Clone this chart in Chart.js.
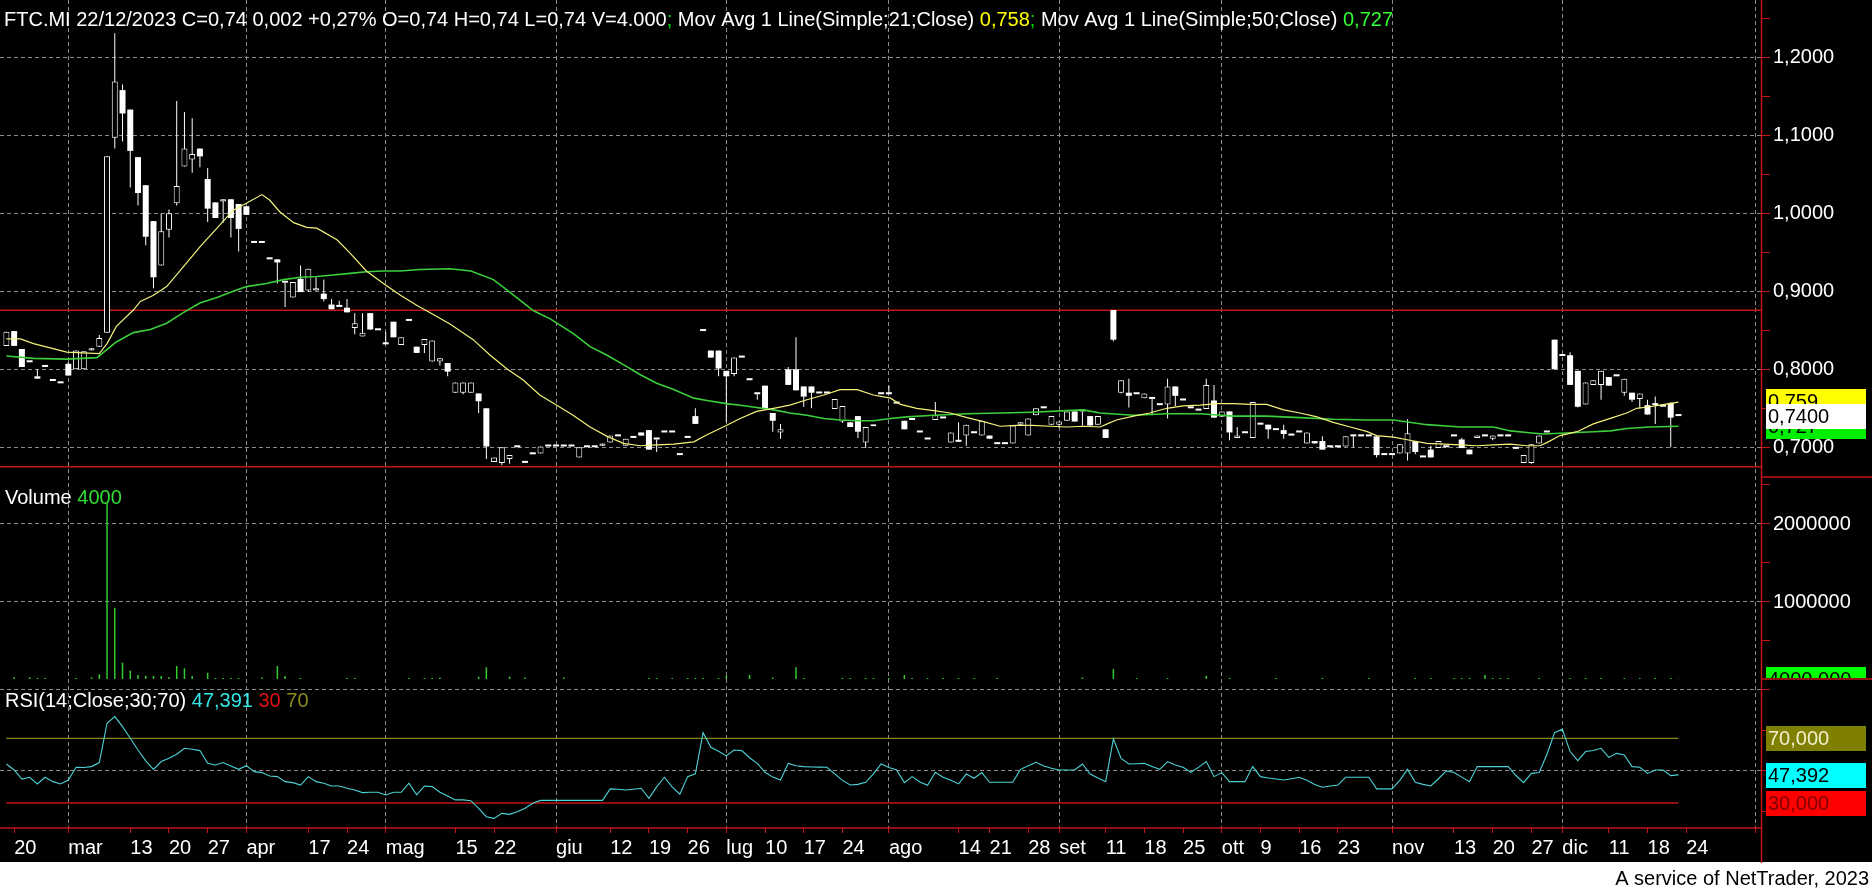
<!DOCTYPE html>
<html>
<head>
<meta charset="utf-8">
<script src="https://cdn.jsdelivr.net/npm/chart.js@4.4.1/dist/chart.umd.min.js"></script>
<style>
  html, body { margin: 0; padding: 0; background: #fff; }
  canvas { display: block; }
</style>
</head>
<body>
<canvas id="chart" width="1872" height="888"></canvas>
<script>
// candles, one per trading day from 17/02/2023 to 22/12/2023
const opens = [
  .830,.849,.826,.809,.791,.803,.785,.782,.807,.800,
  .800,.824,.829,.847,1.097,1.158,1.133,1.072,1.036,.990,
  .933,.979,1.013,1.060,1.069,1.083,1.044,1.014,1.015,1.018,
  1.012,1.009,.962,.962,.941,.941,.911,.892,.916,.901,
  .901,.897,.883,.880,.879,.853,.842,.872,.850,.832,
  .861,.831,.862,.829,.831,.810,.810,.808,.770,.770,
  .770,.769,.750,.681,.680,.685,.700,.680,.691,.692,
  .701,.701,.701,.701,.687,.700,.700,.702,.706,.714,
  .702,.712,.719,.722,.710,.719,.719,.690,.712,.740,
  .849,.824,.824,.798,.794,.815,.786,.768,.779,.744,
  .719,.800,.800,.778,.778,.769,.769,.749,.733,.732,
  .740,.706,.727,.768,.768,.756,.734,.735,.719,.710,
  .735,.737,.706,.707,.715,.718,.715,.715,.704,.704,
  .705,.729,.715,.741,.750,.729,.729,.734,.746,.746,
  .740,.729,.723,.876,.770,.770,.768,.763,.762,.754,
  .755,.778,.760,.750,.747,.749,.760,.739,.746,.712,
  .718,.712,.729,.729,.722,.722,.715,.719,.705,.708,
  .708,.700,.700,.701,.714,.714,.714,.714,.690,.690,
  .692,.692,.708,.687,.697,.699,.700,.714,.710,.697,
  .712,.714,.711,.714,.714,.700,.680,.680,.705,.719,
  .838,.817,.818,.798,.755,.780,.780,.790,.791,.770,
  .770,.762,.754,.754,.752,.757,.740
];
const highs = [
  .848,.849,.826,.809,.800,.803,.785,.782,.810,.824,
  .823,.827,.844,1.073,1.231,1.165,1.133,1.072,1.036,.990,
  1.000,1.005,1.144,1.130,1.122,1.083,1.058,1.014,1.018,1.018,
  1.012,1.009,.962,.962,.941,.941,.911,.912,.933,.929,
  .918,.915,.890,.888,.890,.872,.872,.872,.850,.848,
  .861,.841,.862,.829,.839,.837,.814,.808,.783,.783,
  .783,.769,.750,.687,.700,.690,.700,.680,.691,.701,
  .701,.701,.701,.701,.700,.700,.700,.705,.715,.714,
  .711,.712,.719,.722,.710,.719,.719,.690,.712,.750,
  .849,.824,.824,.798,.815,.815,.786,.768,.779,.744,
  .730,.803,.841,.778,.778,.769,.769,.762,.753,.732,
  .740,.726,.729,.768,.779,.756,.734,.735,.719,.710,
  .758,.737,.719,.732,.729,.718,.734,.715,.704,.704,
  .728,.732,.737,.750,.750,.740,.733,.746,.746,.746,
  .740,.740,.723,.876,.786,.788,.768,.769,.762,.754,
  .788,.778,.760,.750,.747,.788,.780,.746,.746,.726,
  .718,.758,.729,.729,.722,.729,.715,.719,.719,.708,
  .714,.700,.700,.714,.714,.714,.714,.714,.690,.690,
  .704,.736,.708,.687,.702,.708,.700,.714,.712,.697,
  .715,.714,.715,.714,.714,.700,.690,.704,.715,.719,
  .838,.817,.822,.798,.783,.786,.798,.790,.791,.788,
  .770,.769,.761,.765,.752,.757,.740
];
const lows = [
  .830,.830,.803,.809,.788,.803,.785,.782,.792,.800,
  .800,.824,.829,.847,1.083,1.092,1.033,1.010,.959,.904,
  .933,.969,1.010,1.060,1.052,1.059,.989,.994,.988,.969,
  .951,.998,.962,.962,.941,.910,.880,.892,.899,.899,
  .901,.887,.877,.880,.873,.845,.842,.851,.850,.832,
  .841,.831,.862,.821,.821,.810,.805,.791,.770,.768,
  .770,.744,.685,.681,.677,.679,.700,.680,.691,.692,
  .701,.701,.701,.701,.687,.700,.700,.702,.706,.714,
  .702,.712,.715,.697,.694,.719,.719,.690,.712,.730,
  .849,.815,.791,.732,.791,.815,.786,.761,.750,.720,
  .711,.780,.773,.752,.750,.769,.769,.749,.731,.726,
  .712,.699,.727,.768,.768,.756,.723,.735,.719,.710,
  .735,.737,.706,.707,.702,.718,.715,.711,.704,.704,
  .705,.729,.715,.741,.750,.729,.725,.734,.733,.728,
  .728,.729,.712,.836,.769,.751,.768,.763,.741,.754,
  .737,.753,.760,.750,.747,.749,.738,.739,.709,.712,
  .718,.712,.729,.711,.722,.711,.715,.719,.705,.705,
  .697,.700,.700,.701,.700,.714,.714,.687,.690,.690,
  .692,.683,.691,.687,.687,.699,.700,.714,.699,.691,
  .712,.714,.709,.714,.714,.698,.680,.679,.705,.719,
  .800,.817,.780,.751,.755,.780,.761,.779,.791,.766,
  .758,.750,.742,.730,.752,.700,.740
];
const closes = [
  .848,.830,.803,.809,.788,.803,.785,.782,.792,.824,
  .823,.827,.840,1.073,1.169,1.128,1.080,1.026,.970,.918,
  .977,1.000,1.035,1.083,1.076,1.073,1.006,.994,1.018,.994,
  .980,.998,.962,.962,.941,.937,.911,.912,.899,.929,
  .904,.890,.877,.880,.873,.859,.847,.851,.850,.832,
  .841,.841,.862,.821,.839,.837,.814,.797,.783,.783,
  .783,.759,.701,.687,.700,.690,.700,.680,.691,.701,
  .701,.701,.701,.701,.700,.700,.700,.705,.715,.714,
  .711,.712,.715,.697,.710,.719,.719,.690,.712,.730,
  .849,.815,.801,.791,.815,.815,.786,.768,.750,.734,
  .723,.780,.773,.765,.770,.769,.769,.762,.753,.726,
  .720,.726,.729,.768,.768,.756,.723,.735,.719,.710,
  .741,.737,.719,.707,.729,.718,.734,.711,.704,.704,
  .728,.732,.737,.750,.750,.740,.733,.746,.733,.746,
  .728,.740,.712,.838,.786,.766,.768,.769,.762,.754,
  .778,.766,.760,.750,.747,.780,.738,.746,.719,.715,
  .718,.758,.729,.723,.722,.717,.715,.719,.719,.705,
  .697,.700,.700,.714,.714,.714,.714,.690,.690,.690,
  .704,.718,.694,.687,.687,.708,.700,.714,.699,.691,
  .715,.714,.715,.714,.714,.698,.690,.704,.715,.719,
  .800,.817,.780,.752,.783,.786,.798,.779,.791,.788,
  .761,.769,.742,.754,.752,.738,.740
];
const volumes = [
  0,22000,0,22000,13000,13000,0,0,0,13000,
  0,20000,60000,2260000,916000,209000,107000,51000,39000,39000,
  39000,22000,167000,137000,39000,0,81000,13000,13000,13000,
  13000,0,0,20000,0,167000,39000,0,13000,0,
  0,0,0,0,13000,13000,0,0,0,0,
  0,0,13000,0,13000,13000,20000,0,0,0,
  0,30000,150000,0,0,30000,0,20000,0,0,
  0,0,20000,0,0,0,0,0,0,0,
  0,0,0,13000,13000,0,13000,0,13000,13000,
  13000,0,13000,39000,0,0,51000,0,0,20000,
  0,0,150000,13000,0,0,0,0,13000,13000,
  0,13000,13000,0,13000,0,51000,13000,0,13000,
  0,13000,0,13000,0,13000,0,0,13000,0,
  0,0,0,0,0,0,0,0,0,20000,
  0,0,0,128000,0,0,13000,0,0,0,
  13000,0,0,0,0,39000,0,0,13000,0,
  0,0,0,0,13000,0,0,0,0,0,
  13000,0,0,0,0,0,13000,0,0,0,
  0,0,13000,0,13000,0,0,13000,13000,13000,
  0,51000,13000,13000,13000,0,0,0,13000,0,
  0,0,13000,0,13000,0,13000,0,0,13000,
  0,13000,0,13000,0,13000,4000
];
const rsi = [
  54.1,50.4,44.8,45.9,41.8,45.9,43.2,41.8,44.2,52.1,
  51.9,52.5,55.0,79.3,83.4,77.2,70.0,62.8,56.0,50.8,
  55.6,57.6,60.1,63.8,63.2,62.4,54.5,53.5,55.0,52.9,
  50.8,53.1,49.4,48.8,46.7,46.3,43.2,42.6,41.1,46.3,
  43.2,42.2,40.5,40.5,39.1,38.0,36.4,36.6,36.6,35.0,
  36.6,36.6,42.2,35.0,40.5,40.1,36.6,34.3,31.9,31.9,
  31.4,26.7,21.5,20.5,23.6,23.0,24.6,26.7,29.8,31.6,
  31.6,31.6,31.6,31.6,31.6,31.6,31.6,31.6,38.7,38.5,
  38.0,38.5,39.1,32.9,40.0,45.9,40.0,35.4,46.3,48.0,
  73.5,64.4,62.0,59.1,62.8,62.4,58.0,54.5,49.0,46.0,
  44.2,54.5,53.0,52.5,52.3,52.2,52.1,48.0,44.0,41.1,
  41.5,42.8,48.0,54.1,52.0,50.4,42.6,46.3,43.0,40.9,
  49.0,45.9,44.0,41.8,47.9,45.3,48.8,42.8,42.8,42.8,
  42.8,50.8,53.0,55.2,52.9,51.5,50.4,50.4,50.4,54.1,
  47.9,45.5,43.2,69.6,57.6,54.1,54.3,54.5,52.5,50.8,
  55.6,53.5,52.1,49.0,52.0,55.6,46.3,48.8,43.2,43.2,
  43.2,52.5,46.3,45.5,44.8,44.2,45.0,45.9,44.0,41.5,
  39.7,40.5,41.1,45.9,45.9,45.9,45.9,38.7,38.7,38.7,
  44.0,50.8,42.8,41.5,40.5,45.0,49.8,48.8,46.0,43.2,
  52.5,52.5,52.5,52.5,52.5,47.0,42.6,48.3,48.8,60.0,
  73.5,75.6,61.8,56.2,61.8,62.5,63.8,58.2,60.7,59.7,
  52.5,52.1,48.3,50.4,50.4,46.9,47.4
];
// moving averages (day index, value)
const ma21Day = [0,1.8,3.5,7.8,12,13,14.2,16.4,17.3,19,20.7,22.9,25,27.2,29.3,31,33,34,35.3,37.1,38.8,40.1,42.7,44.4,46.5,48.7,50.9,53,55.2,57.3,
  60.3,62.5,64.6,66.8,68.9,71.1,73.2,75.4,77.6,79.7,81.9,84,86.2,88.8,90.5,92.6,94.8,96.9,99.1,101.2,103.4,105.6,107.7,109.9,112,114.2,
  115.5,117.6,119.8,121.9,124.1,126.2,128.4,130.5,132.5,134.8,137,139.1,141.3,142.2,143.4,145.6,147.7,149.9,152,154.2,156.3,158.5,160.7,162.8,165,167.1,169.3,171.4,173.6,175.8,
  177,179.2,181.3,183.5,185.7,187.8,190,192.1,194.3,196.4,198.1,199,200.7,202.9,205,207.2,209.3,210.6,212.3,213.6,216];
const ma21Val = [.839,.839,.833,.822,.820,.833,.855,.876,.887,.895,.906,.932,.957,.981,1.004,1.013,1.024,1.017,1.002,.988,.982,.981,.966,.949,.926,.910,.895,.882,.870,.858,
  .838,.818,.801,.786,.767,.754,.741,.726,.714,.705,.702,.703,.704,.707,.716,.726,.737,.746,.750,.754,.761,.767,.774,.774,.767,.763,
  .755,.750,.747,.744,.738,.733,.727,.728,.728,.727,.726,.727,.726,.730,.735,.740,.744,.750,.753,.754,.756,.756,.755,.755,.748,.744,.739,.732,.726,.720,
  .715,.713,.709,.705,.704,.703,.702,.703,.704,.702,.702,.706,.715,.720,.730,.737,.744,.750,.752,.754,.758];
const ma50Day = [0,3.5,7.8,11.7,14.2,16.4,18.6,20.7,22.9,25,27.2,29.3,31,33.6,35.8,38,40.1,42.2,44.4,46.5,48.7,50.9,53.4,57.3,60,
  62.9,64.6,68.1,70.2,73.2,75.4,77.6,79.7,81.9,84,86.2,88.8,90.5,93,94.8,96.9,99.1,101.2,103.4,105.6,107.7,109.9,112,114.2,116.3,
  119.8,124.1,128.4,132.5,137,139.1,141.3,145.6,149.9,154.2,158.5,162.8,167.1,171.4,175.8,179.2,183.5,187.8,192.1,194.3,196.4,198.5,200.7,202.9,205,207.2,209.3,212.3,216];
const ma50Val = [.817,.814,.813,.815,.835,.847,.851,.859,.873,.885,.892,.900,.906,.910,.915,.918,.919,.921,.923,.925,.926,.926,.928,.929,.926,
  .915,.902,.875,.865,.846,.829,.818,.806,.793,.782,.774,.763,.760,.756,.754,.751,.748,.744,.741,.737,.735,.734,.734,.737,.739,
  .741,.743,.744,.745,.747,.748,.744,.741,.743,.743,.740,.740,.738,.736,.735,.735,.729,.726,.726,.721,.719,.717,.718,.719,.720,.721,.724,.726,.727];

const supportLevels = [0.8756, 0.675];
const rsiLevels = [70, 30];
const priceTicks = [0.70, 0.75, 0.80, 0.85, 0.90, 0.95, 1.00, 1.05, 1.10, 1.15, 1.20, 1.25];
const volTicks = [500000, 1000000, 1500000, 2000000, 2500000];
const rsiTicks = [25, 50, 75, 100];
const dayTicks = [1,8,16,21,26,31,39,44,49,58,63,71,78,83,88,93,98,103,108,114,123,127,132,136,142,147,152,157,162,167,172,179,187,192,197,201,207,212,217,225.9];
const dayLabels = ['20','mar','13','20','27','apr','17','24','mag','15','22','giu','12','19','26','lug','10','17','24','ago','14','21','28','set','11','18','25','ott','9','16','23','nov','13','20','27','dic','11','18','24',''];
const monthLines = [8,31,49,71,93,114,136,157,179,201,225.9];

const lastMa21 = 0.759, lastMa50 = 0.727, lastClose = 0.74, lastVol = 4000, lastRsi = 47.392;
const titleRuns = [
  ['FTC.MI 22/12/2023 C=0,74 0,002 +0,27% O=0,74 H=0,74 L=0,74 V=4.000', '#fff'], [';', '#00e000'],
  [' Mov Avg 1 Line(Simple;21;Close) ', '#fff'], ['0,758', '#ffff00'], [';', '#00e000'],
  [' Mov Avg 1 Line(Simple;50;Close) ', '#fff'], ['0,727', '#33ff33']
];
const rsiRuns = [['RSI(14;Close;30;70) ', '#fff'], ['47,391 ', '#33e6e6'], ['30 ', '#e01010'], ['70', '#8a8a1a']];
const footer = 'A service of NetTrader, 2023';

const FONT = "'Liberation Sans', Arial, sans-serif";
const RED = '#c41414';
const GRID = '#8c8c8c';
const X_MIN = -0.827, X_MAX = 226.66;

const isTenth = v => Math.abs(v * 10 - Math.round(v * 10)) < 1e-6;
const isMillion = v => Math.abs(v / 1e6 - Math.round(v / 1e6)) < 1e-9;
const comma = (v, d) => v.toFixed(d).replace('.', ',');

// build candle pieces
const wicks = [], upBodies = [], downBodies = [];
closes.forEach((c, k) => {
  wicks.push({x: k, y: [lows[k], highs[k]]});
  (c > opens[k] ? upBodies : downBodies).push({x: k, y: [opens[k], c]});
});

function runs(c, x, y, list) {
  for (const [t, col] of list) {
    c.fillStyle = col;
    c.fillText(t, x, y);
    x += c.measureText(t).width;
  }
}
function tag(c, y, bg, fg, txt) {
  y = Math.round(y);
  c.fillStyle = bg;
  c.fillRect(1766, y - 12, 100, 25);
  c.fillStyle = fg;
  c.fillText(txt, 1768, y + 7);
}
function line(c, x1, y1, x2, y2) {
  c.beginPath(); c.moveTo(x1, y1); c.lineTo(x2, y2); c.stroke();
}

const overlay = {
  id: 'overlay',
  beforeDraw(chart) {
    const c = chart.ctx;
    c.save();
    c.fillStyle = '#000'; c.fillRect(0, 0, 1872, 862);
    c.fillStyle = '#fff'; c.fillRect(0, 862, 1872, 26);
    c.restore();
  },
  // volume axis grid and tick marks, drawn by hand under the bars
  beforeDatasetsDraw(chart) {
    const c = chart.ctx, a = chart.chartArea, sV = chart.scales.yV;
    c.save();
    c.lineWidth = 1;
    for (const v of volTicks) {
      const y = Math.round(sV.getPixelForValue(v)) + 0.5;
      if (isMillion(v)) {
        c.strokeStyle = GRID; c.setLineDash([4, 3]);
        line(c, a.left, y, a.right, y);
      }
      c.setLineDash([]); c.strokeStyle = RED;
      line(c, a.right, y, a.right + 9, y);
    }
    c.restore();
  },
  afterDraw(chart) {
    const c = chart.ctx, a = chart.chartArea;
    const sP = chart.scales.yP, sV = chart.scales.yV, sR = chart.scales.yR;
    c.save();
    c.strokeStyle = RED; c.lineWidth = 1.5;
    line(c, a.right + 0.5, 0, a.right + 0.5, 863);
    line(c, a.right, sP.bottom, 1872, sP.bottom);
    line(c, a.right, sV.bottom, 1872, sV.bottom);
    line(c, 0, a.bottom, a.right, a.bottom);

    c.font = '20px ' + FONT;
    c.textBaseline = 'alphabetic';
    runs(c, 4, 26, titleRuns);
    runs(c, 5, 504, [['Volume ', '#fff'], [String(lastVol), '#33dd33']]);
    runs(c, 5, 707, rsiRuns);

    // volume axis labels
    c.fillStyle = '#fff';
    c.textBaseline = 'middle';
    for (const v of volTicks) {
      if (isMillion(v)) c.fillText(String(v), a.right + 12, sV.getPixelForValue(v) + 1);
    }
    c.textBaseline = 'alphabetic';

    tag(c, sP.getPixelForValue(lastMa21), '#ffff00', '#000', comma(lastMa21, 3));
    tag(c, sP.getPixelForValue(lastMa50), '#00ee00', '#000', comma(lastMa50, 3));
    tag(c, sP.getPixelForValue(lastClose), '#fff', '#000', comma(lastClose, 4));

    c.save();
    c.beginPath(); c.rect(a.right + 1, sV.top, 1872 - a.right, sV.bottom - sV.top - 1); c.clip();
    tag(c, sV.getPixelForValue(lastVol), '#00ff00', '#000', comma(lastVol, 3));
    c.restore();

    tag(c, sR.getPixelForValue(70), '#808000', '#f0f0d0', '70,000');
    tag(c, sR.getPixelForValue(lastRsi), '#00ffff', '#000', comma(lastRsi, 3));
    tag(c, sR.getPixelForValue(30), '#ff0000', '#800000', '30,000');

    c.fillStyle = '#000'; c.textAlign = 'right';
    c.fillText(footer, 1869, 885);
    c.restore();
  }
};

const yAxisFit = s => { s.width = 111; s.paddingTop = 0; s.paddingBottom = 0; };
const tickFont = {family: FONT, size: 20};

new Chart(document.getElementById('chart'), {
  type: 'line',
  data: {
    datasets: [
      {type: 'line', label: 'MA21', yAxisID: 'yP', order: 0,
        data: ma21Day.map((d, i) => ({x: d, y: ma21Val[i]})),
        borderColor: '#f2f27a', borderWidth: 1.2, pointRadius: 0, tension: 0},
      {type: 'line', label: 'MA50', yAxisID: 'yP', order: 1,
        data: ma50Day.map((d, i) => ({x: d, y: ma50Val[i]})),
        borderColor: '#3ccf3c', borderWidth: 1.6, pointRadius: 0, tension: 0},
      {type: 'bar', label: 'up', yAxisID: 'yP', order: 2, data: upBodies,
        backgroundColor: '#000', borderColor: '#fff', borderWidth: 1, borderSkipped: false,
        barThickness: 6, grouped: false, inflateAmount: 0, minBarLength: 2},
      {type: 'bar', label: 'down', yAxisID: 'yP', order: 3, data: downBodies,
        backgroundColor: '#fff', borderWidth: 0,
        barThickness: 6, grouped: false, inflateAmount: 0, minBarLength: 2},
      {type: 'bar', label: 'wick', yAxisID: 'yP', order: 4, data: wicks,
        backgroundColor: '#fff', borderWidth: 0, barThickness: 1, grouped: false, inflateAmount: 0},
      ...supportLevels.map(v => ({type: 'line', yAxisID: 'yP', order: 5,
        data: [{x: X_MIN, y: v}, {x: X_MAX, y: v}], borderColor: RED, borderWidth: 1.5, pointRadius: 0})),
      {type: 'bar', label: 'Volume', yAxisID: 'yV', order: 6,
        data: volumes.map((v, k) => ({x: k, y: v})).filter(p => p.y > 0),
        backgroundColor: '#33cc33', barThickness: 1.5, grouped: false, inflateAmount: 0},
      {type: 'line', label: 'RSI', yAxisID: 'yR', order: 7,
        data: rsi.map((v, k) => ({x: k, y: v})),
        borderColor: '#4dd2d6', borderWidth: 1.1, pointRadius: 0, tension: 0},
      {type: 'line', yAxisID: 'yR', order: 8, data: [{x: 0, y: rsiLevels[0]}, {x: 216, y: rsiLevels[0]}],
        borderColor: '#85851c', borderWidth: 1.3, pointRadius: 0},
      {type: 'line', yAxisID: 'yR', order: 8, data: [{x: 0, y: rsiLevels[1]}, {x: 216, y: rsiLevels[1]}],
        borderColor: RED, borderWidth: 1.5, pointRadius: 0}
    ]
  },
  options: {
    responsive: false,
    animation: false,
    devicePixelRatio: 1,
    events: [],
    layout: {padding: {left: 0, right: 0, top: 0, bottom: 26}},
    plugins: {legend: {display: false}, tooltip: {enabled: false}},
    scales: {
      x: {
        type: 'linear', position: 'bottom', min: X_MIN, max: X_MAX, bounds: 'data', offset: false,
        afterBuildTicks: s => { s.ticks = dayTicks.map(v => ({value: v})); },
        afterFit: s => { s.height = 34; s.paddingLeft = 0; s.paddingRight = 0; },
        grid: {color: c => monthLines.includes(c.tick && c.tick.value) ? GRID : 'transparent',
          tickColor: RED, tickLength: 5, lineWidth: 1, offset: false},
        border: {display: false, dash: [4, 3]},
        ticks: {color: '#fff', font: tickFont, align: 'start', maxRotation: 0, autoSkip: false, padding: 3,
          callback: (v, i) => dayLabels[i]}
      },
      yP: {
        type: 'linear', position: 'right', stack: 'right', stackWeight: 477,
        min: 0.6619, max: 1.2735, bounds: 'data',
        afterBuildTicks: s => { s.ticks = priceTicks.map(v => ({value: v})); },
        afterFit: yAxisFit,
        grid: {color: c => isTenth(c.tick.value) ? GRID : 'transparent', tickColor: RED, tickLength: 9},
        border: {display: false, dash: [4, 3]},
        ticks: {color: '#fff', font: tickFont, padding: 3, autoSkip: false,
          callback: v => isTenth(v) ? comma(v, 4) : ''}
      },
      yV: {
        type: 'linear', position: 'right', stack: 'right', stackWeight: 202,
        min: 0, max: 2594700, bounds: 'data',
        afterFit: yAxisFit,
        grid: {display: false},
        border: {display: false},
        ticks: {display: false}
      },
      yR: {
        type: 'linear', position: 'right', stack: 'right', stackWeight: 149,
        min: 14.54, max: 106.66, bounds: 'data',
        afterBuildTicks: s => { s.ticks = rsiTicks.map(v => ({value: v})); },
        afterFit: yAxisFit,
        grid: {color: c => c.tick.value % 50 === 0 ? GRID : 'transparent', tickColor: RED, tickLength: 9},
        border: {display: false, dash: [4, 3]},
        ticks: {color: '#fff', font: tickFont, padding: 3, autoSkip: false, callback: () => ''}
      }
    }
  },
  plugins: [overlay]
});
</script>
</body>
</html>
